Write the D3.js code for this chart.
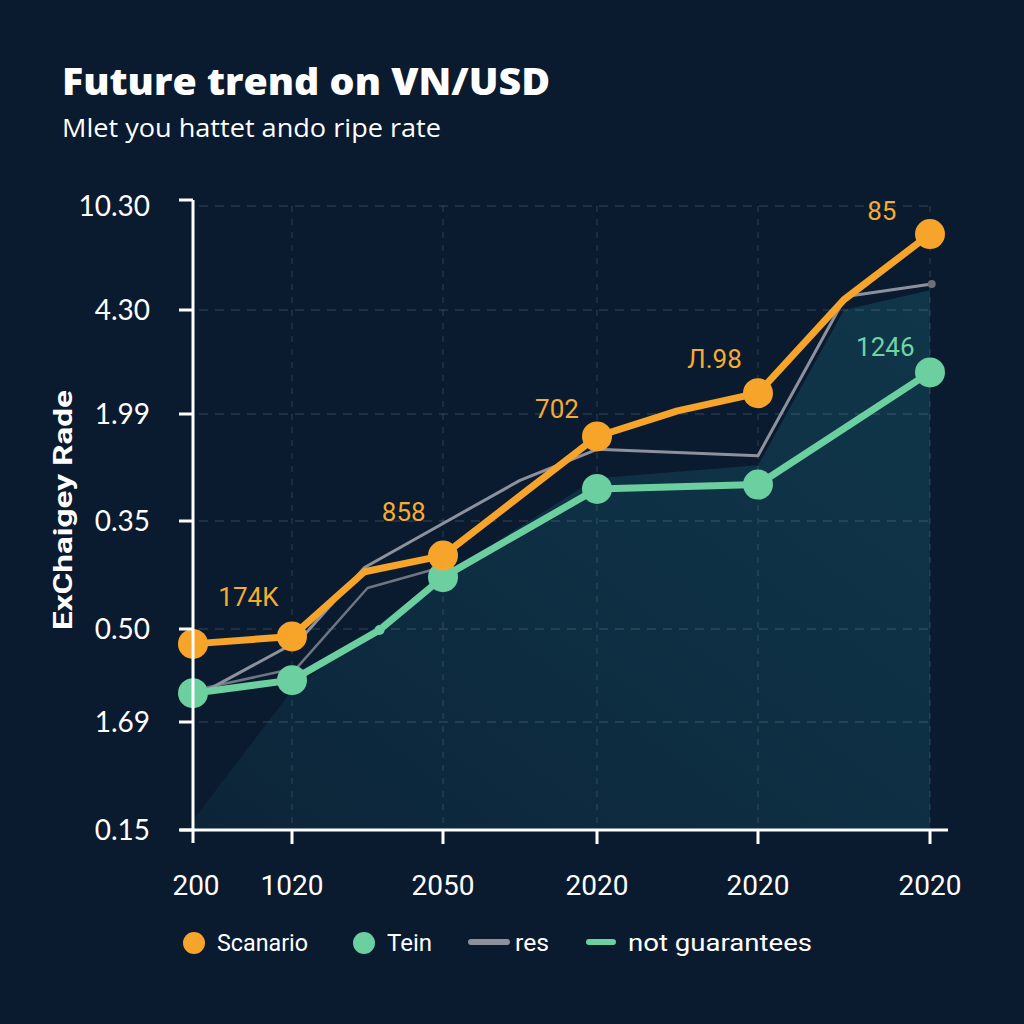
<!DOCTYPE html>
<html><head><meta charset="utf-8">
<script src="https://cdn.jsdelivr.net/npm/d3@7"></script>
<style>html,body{margin:0;padding:0;background:#0a1a2f;}svg{display:block;}</style>
</head><body>
<svg id="c" width="1024" height="1024"></svg>
<script>
// ---- data ----
const xTickLabels = ["200","1020","2050","2020","2020","2020"];
const yTickLabels = ["0.15","1.69","0.50","0.35","1.99","4.30","10.30"];

const scenarioX = [0, 1, 1.48, 2, 3, 3.5, 4, 4.5, 5];
const scenarioY = [1.84, 1.92, 2.53, 2.68, 3.79, 4.03, 4.20, 5.10, 5.73];
const scenarioMajor = [1, 1, 0, 1, 1, 0, 1, 0, 1];

const teinX = [0, 1, 1.58, 2, 3, 4, 5];
const teinY = [1.31, 1.45, 1.99, 2.48, 3.30, 3.34, 4.40];
const teinMajor = [1, 1, 0, 1, 1, 1, 1];

const resX = [0.14, 1.05, 1.48, 2.5, 3, 4, 4.51, 5.01];
const resY = [1.34, 1.88, 2.57, 3.38, 3.67, 3.61, 5.13, 5.25];
const res2X = [0.14, 1.03, 1.50, 1.96];
const res2Y = [1.37, 1.58, 2.38, 2.56];

const areaX = [0, 1, 2, 3, 4, 4.5, 5];
const areaY = [0.09, 1.34, 2.5, 3.40, 3.52, 5.0, 5.19];

const labels = [
  {text:"174K", x:0.56, y:2.21, color:"#f4ad2f"},
  {text:"858",  x:1.74, y:3.0, color:"#f4ad2f"},
  {text:"702",  x:2.74, y:3.96, color:"#f4ad2f"},
  {text:"Л.98", x:3.73, y:4.44, color:"#f4ad2f"},
  {text:"85",   x:4.72, y:5.87, color:"#f4ad2f"},
  {text:"1246", x:4.74, y:4.56, color:"#6fd3a5"}
];
const legendItems = [
  {name:"Scanario", type:"dot", color:"#f7a42a", w:91},
  {name:"Tein", type:"dot", color:"#6ccfa0", w:45},
  {name:"res", type:"line", color:"#8d919e", w:34},
  {name:"not guarantees", type:"line", color:"#6ccfa0", w:184}
];

// ---- scales ----
const x = d3.scaleLinear().domain([0,1,2,3,4,5]).range([193,292,443,597,758,930]);
const y = d3.scaleLinear().domain([0,1,2,3,4,5,6]).range([830,722,629,521,414,310,206]);

const svg = d3.select("#c");
svg.append("rect").attr("width",1024).attr("height",1024).attr("fill","#0a1a2f");

const defs = svg.append("defs");
const g1 = defs.append("linearGradient").attr("id","ag").attr("x1","0").attr("y1","1").attr("x2","1").attr("y2","0");
g1.append("stop").attr("offset","0").attr("stop-color","#0c2438");
g1.append("stop").attr("offset","0.5").attr("stop-color","#0e2f43");
g1.append("stop").attr("offset","1").attr("stop-color","#10364a");

// area
const zip = (xs,ys)=>xs.map((v,i)=>({x:v,y:ys[i]}));
const areaData = zip(areaX, areaY);
svg.append("path").datum(areaData)
  .attr("d", d3.area().x(d=>x(d.x)).y0(y(0)).y1(d=>y(d.y)))
  .attr("fill","url(#ag)");

// grid
const grid = svg.append("g");
d3.range(1,7).forEach(i=>{
  grid.append("line").attr("x1",x(0)+6).attr("x2",x(5)).attr("y1",y(i)).attr("y2",y(i))
    .attr("stroke","rgba(200,210,225,0.16)").attr("stroke-width",1.5).attr("stroke-dasharray","9,7");
});
d3.range(1,6).forEach(i=>{
  grid.append("line").attr("x1",x(i)).attr("x2",x(i)).attr("y1",y(6)).attr("y2",y(0)-4)
    .attr("stroke","rgba(200,210,225,0.13)").attr("stroke-width",1.5).attr("stroke-dasharray","6,7");
});

// lines
const line = d3.line().x(d=>x(d.x)).y(d=>y(d.y));
svg.append("path").datum(zip(res2X,res2Y)).attr("d",line).attr("fill","none")
  .attr("stroke","#6f7682").attr("stroke-width",2.5).attr("stroke-linejoin","round");
svg.append("path").datum(zip(resX,resY)).attr("d",line).attr("fill","none")
  .attr("stroke","#8d919e").attr("stroke-width",3).attr("stroke-linejoin","round");
svg.append("circle").attr("cx",x(resX[resX.length-1])).attr("cy",y(resY[resY.length-1])).attr("r",4).attr("fill","#6d717b");

const tein = zip(teinX,teinY).map((d,i)=>({...d,m:teinMajor[i]}));
svg.append("path").datum(tein).attr("d",line).attr("fill","none")
  .attr("stroke","#6ccfa0").attr("stroke-width",7).attr("stroke-linejoin","round");
svg.selectAll(".td").data(tein).enter().append("circle")
  .attr("cx",d=>x(d.x)).attr("cy",d=>y(d.y)).attr("r",d=>d.m?15:5).attr("fill","#6ccfa0");

const scen = zip(scenarioX,scenarioY).map((d,i)=>({...d,m:scenarioMajor[i]}));
svg.append("path").datum(scen).attr("d",line).attr("fill","none")
  .attr("stroke","#f7a42a").attr("stroke-width",7).attr("stroke-linejoin","round");
svg.selectAll(".sd").data(scen.filter(d=>d.m)).enter().append("circle")
  .attr("cx",d=>x(d.x)).attr("cy",d=>y(d.y)).attr("r",15).attr("fill","#f7a42a");

// data labels
svg.selectAll(".lb").data(labels).enter().append("text")
  .attr("x",d=>x(d.x)).attr("y",d=>y(d.y)).attr("text-anchor","middle")
  .attr("font-family","Roboto, sans-serif").attr("font-size",26).attr("fill",d=>d.color).text(d=>d.text);

// axes
const ax = svg.append("g").attr("stroke","#ffffff").attr("stroke-width",3);
ax.append("line").attr("x1",x(0)).attr("x2",x(0)).attr("y1",y(6)-6).attr("y2",y(0)+13);
ax.append("line").attr("x1",180).attr("x2",948).attr("y1",y(0)).attr("y2",y(0));
d3.range(0,7).forEach(i=>{
  ax.append("line").attr("x1",179).attr("x2",x(0)).attr("y1",y(i)-(i==6?6:0)).attr("y2",y(i)-(i==6?6:0));
});
d3.range(1,6).forEach(i=>{
  ax.append("line").attr("x1",x(i)).attr("x2",x(i)).attr("y1",y(0)).attr("y2",y(0)+14);
});

// tick labels
svg.selectAll(".yt").data(yTickLabels).enter().append("text")
  .attr("x",150).attr("y",(d,i)=>y(i)+10).attr("text-anchor","end")
  .attr("font-family","Lato, sans-serif").attr("font-size",28).attr("fill","#ffffff").text(d=>d);
svg.selectAll(".xt").data(xTickLabels).enter().append("text")
  .attr("x",(d,i)=>i==0?x(0)+3:x(i)).attr("y",895).attr("text-anchor","middle")
  .attr("font-family","Roboto, sans-serif").attr("font-size",28).attr("fill","#ffffff").text(d=>d);

// titles
svg.append("text").attr("x",62).attr("y",95).attr("font-family","'Open Sans', sans-serif")
  .attr("font-weight",800).attr("font-size",37).attr("fill","#ffffff")
  .attr("textLength",488).attr("lengthAdjust","spacingAndGlyphs").text("Future trend on VN/USD");
svg.append("text").attr("x",62).attr("y",137).attr("font-family","'Open Sans', sans-serif")
  .attr("font-size",25).attr("fill","#ffffff")
  .attr("textLength",379).attr("lengthAdjust","spacingAndGlyphs").text("Mlet you hattet ando ripe rate");
svg.append("text").attr("transform","translate(72,510) rotate(-90)").attr("text-anchor","middle")
  .attr("font-family","Roboto, sans-serif").attr("font-weight",700).attr("font-size",26).attr("fill","#ffffff")
  .attr("textLength",240).attr("lengthAdjust","spacingAndGlyphs").text("ExChaigey Rade");

// legend
const legX = [194, 364, 471, 589];
const lg = svg.append("g");
legendItems.forEach((d,i)=>{
  const lx = legX[i];
  let tx;
  if (d.type==="dot") {
    lg.append("circle").attr("cx",lx).attr("cy",943).attr("r",11).attr("fill",d.color);
    tx = lx+23;
  } else {
    const w = i===2 ? 36 : 24;
    lg.append("line").attr("x1",lx).attr("x2",lx+w).attr("y1",942).attr("y2",942)
      .attr("stroke",d.color).attr("stroke-width",6).attr("stroke-linecap","round");
    tx = lx+w+(i===2?8:15);
  }
  lg.append("text").attr("x",tx).attr("y",951).attr("font-family","Roboto, sans-serif")
    .attr("font-size",24).attr("fill","#ffffff")
    .attr("textLength",d.w).attr("lengthAdjust","spacingAndGlyphs").text(d.name);
});
</script>
</body></html>
